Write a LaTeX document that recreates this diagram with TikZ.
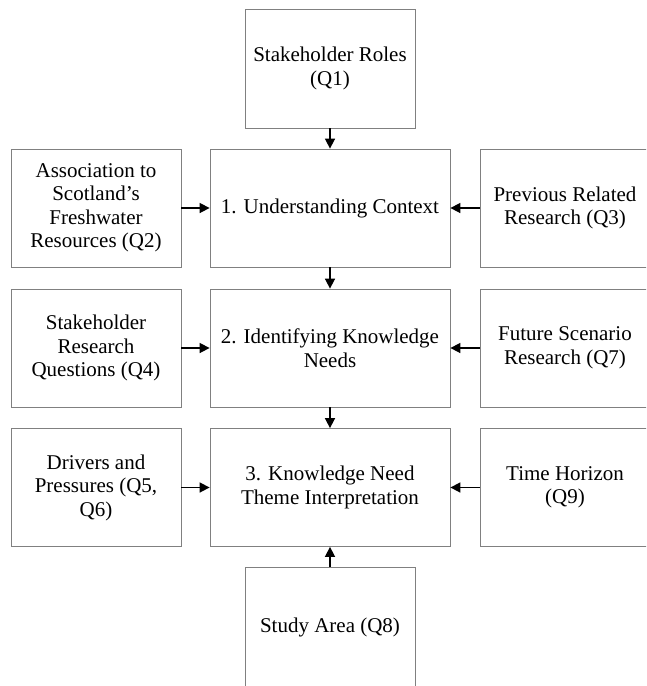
\documentclass[tikz,border=0pt]{standalone}
\usepackage{fontspec}
\setmainfont{Liberation Serif}
\usetikzlibrary{arrows.meta}
\begin{document}
\begin{tikzpicture}[x=1pt,y=-1pt,
  box/.style={draw=black!50, line width=0.8pt, fill=white, rectangle, align=center,
    inner sep=0pt, font=\fontsize{21}{23.5}\selectfont},
  side/.style={box, minimum width=170pt, minimum height=118pt},
  mid/.style={box, minimum width=240pt, minimum height=118pt},
  arr/.style={line width=1.6pt, -{Triangle[length=10pt,width=10pt]}}]
\useasboundingbox (0,0) rectangle (646,686);
\clip (0,0) rectangle (646,686);
\node[side, minimum height=119pt] (top) at (330,68.5) {Stakeholder Roles\\(Q1)};
\node[mid] (c1) at (330,208) {1. Understanding Context};
\node[mid] (c2) at (330,348) {2. Identifying Knowledge\\Needs};
\node[mid] (c3) at (330,487.5) {3. Knowledge Need\\Theme Interpretation};
\node[side, minimum height=120pt] (bot) at (330,627.5) {Study Area (Q8)};
\node[side] (l1) at (96,208) {Association to\\Scotland’s\\Freshwater\\Resources (Q2)};
\node[side] (l2) at (96,348) {Stakeholder\\Research\\Questions (Q4)};
\node[side] (l3) at (96,487.5) {Drivers and\\Pressures (Q5,\\Q6)};
\node[side] (r1) at (565,208) {Previous Related\\Research (Q3)};
\node[side] (r2) at (565,348) {Future Scenario\\Research (Q7)};
\node[side] (r3) at (565,487.5) {Time Horizon\\(Q9)};
\draw[arr] (top.south) -- (c1.north);
\draw[arr] (c1.south) -- (c2.north);
\draw[arr] (c2.south) -- (c3.north);
\draw[arr] (bot.north) -- (c3.south);
\draw[arr] (l1.east) -- (c1.west);
\draw[arr] (l2.east) -- (c2.west);
\draw[arr] (l3.east) -- (c3.west);
\draw[arr] (r1.west) -- (c1.east);
\draw[arr] (r2.west) -- (c2.east);
\draw[arr] (r3.west) -- (c3.east);
\end{tikzpicture}
\end{document}
